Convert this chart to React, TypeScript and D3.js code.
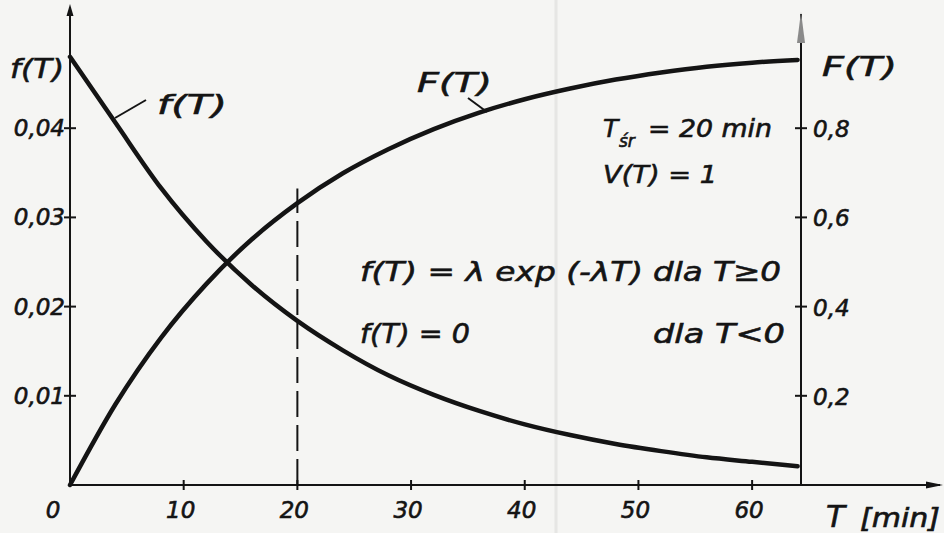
import React from "react";
import * as d3 from "d3";

// Exponential distribution: density f(T) (left axis) and distribution function F(T) (right axis)
const tValues = [0, 4, 8, 12, 16, 20, 24, 28, 32, 36, 40, 44, 48, 52, 56, 60, 64];
const densityValues = [0.048, 0.0406, 0.0333, 0.0273, 0.0224, 0.0184, 0.0151, 0.0123, 0.0101, 0.0083, 0.0068, 0.0056, 0.0046, 0.0038, 0.0031, 0.0026, 0.0021];
const cumulativeValues = [0, 0.181, 0.33, 0.451, 0.551, 0.632, 0.699, 0.753, 0.798, 0.835, 0.865, 0.889, 0.909, 0.925, 0.938, 0.947, 0.953];

const xTicks = [0, 10, 20, 30, 40, 50, 60];
const xTickLabels = ["0", "10", "20", "30", "40", "50", "60"];
const leftTicks = [0.01, 0.02, 0.03, 0.04];
const leftTickLabels = ["0,01", "0,02", "0,03", "0,04"];
const rightTicks = [0.2, 0.4, 0.6, 0.8];
const rightTickLabels = ["0,2", "0,4", "0,6", "0,8"];

const meanT = 20; // T_śr, marked with a dashed line
const meanLineTop = 0.665; // height of the dashed line, in F(T) units

const W = 944;
const H = 533;
const INK = "#141414";
const FONT = "'DejaVu Sans', sans-serif";

export default function App() {
  const x = d3.scaleLinear().domain([0, 64.3]).range([70, 801]);
  const yLeft = d3.scaleLinear().domain([0, 0.05]).range([485, 39]);
  const yRight = d3.scaleLinear().domain([0, 1]).range([485, 39]);

  const densityLine = d3
    .line<number>()
    .x((_, i) => x(tValues[i]))
    .y((d) => yLeft(d))
    .curve(d3.curveMonotoneX);
  const cumulativeLine = d3
    .line<number>()
    .x((_, i) => x(tValues[i]))
    .y((d) => yRight(d))
    .curve(d3.curveMonotoneX);

  const x0 = x(0);
  const xR = x(64.3);
  const yBase = yLeft(0);

  // hand-lettered look: oblique sans with a slightly heavier stroke
  const txt = {
    fontFamily: FONT,
    fontStyle: "italic" as const,
    fill: INK,
    stroke: INK,
    strokeWidth: 0.6,
  };

  return (
    <svg
      width={W}
      height={H}
      viewBox={`0 0 ${W} ${H}`}
      style={{ position: "absolute", left: 0, top: 0, display: "block" }}
    >
      <rect width={W} height={H} fill="#f5f5f3" />
      {/* paper fold */}
      <line x1={556} y1={0} x2={556} y2={H} stroke="#e6e6e4" strokeWidth={3} />

      {/* axes */}
      <g stroke={INK} strokeWidth={2} fill="none">
        <line x1={x0} y1={yBase} x2={x0} y2={10} />
        <line x1={xR} y1={yBase} x2={xR} y2={14} />
        <line x1={x0 - 2} y1={yBase} x2={940} y2={yBase} />
      </g>
      <polygon points={`${x0},4 ${x0 - 3.5},16 ${x0 + 3.5},16`} fill={INK} />
      <polygon points={`${xR},12 ${xR - 4},43 ${xR + 4},43`} fill="#8a8a8a" />
      <polygon points={`943,${yBase} 926,${yBase - 3.5} 926,${yBase + 3.5}`} fill={INK} />

      {/* x ticks */}
      <g stroke={INK} strokeWidth={2}>
        {xTicks.filter((t) => t > 0).map((t) => (
          <line key={t} x1={x(t)} x2={x(t)} y1={yBase - 5} y2={yBase + 5} />
        ))}
      </g>
      {xTicks.map((t, i) => (
        <text key={t} x={x(t) - (t === 0 ? 17 : 3)} y={518} textAnchor="middle" fontSize={23} {...txt}>
          {xTickLabels[i]}
        </text>
      ))}

      {/* left ticks */}
      <g stroke={INK} strokeWidth={2}>
        {leftTicks.map((v) => (
          <line key={v} x1={x0 - 6} x2={x0 + 6} y1={yLeft(v)} y2={yLeft(v)} />
        ))}
      </g>
      {leftTicks.map((v, i) => (
        <text key={v} x={x0 - 5} y={yLeft(v) + 8} textAnchor="end" fontSize={23} {...txt}>
          {leftTickLabels[i]}
        </text>
      ))}

      {/* right ticks */}
      <g stroke={INK} strokeWidth={2}>
        {rightTicks.map((v) => (
          <line key={v} x1={xR - 6} x2={xR + 6} y1={yRight(v)} y2={yRight(v)} />
        ))}
      </g>
      {rightTicks.map((v, i) => (
        <text key={v} x={xR + 12} y={yRight(v) + 9} textAnchor="start" fontSize={23} {...txt}>
          {rightTickLabels[i]}
        </text>
      ))}

      {/* dashed line at T_śr */}
      <line
        x1={x(meanT)}
        x2={x(meanT)}
        y1={yBase}
        y2={yRight(meanLineTop)}
        stroke={INK}
        strokeWidth={2}
        strokeDasharray="26 8"
      />

      {/* curves */}
      <path d={densityLine(densityValues) ?? ""} fill="none" stroke={INK} strokeWidth={4.5} strokeLinecap="round" />
      <path d={cumulativeLine(cumulativeValues) ?? ""} fill="none" stroke={INK} strokeWidth={4.5} strokeLinecap="round" />

      {/* curve labels with leaders */}
      <g stroke={INK} strokeWidth={2}>
        <line x1={115} y1={118} x2={146} y2={100} />
        <line x1={468} y1={98} x2={487} y2={112} />
      </g>
      <text x={10} y={78} fontSize={27} textLength={54} lengthAdjust="spacingAndGlyphs" {...txt}>f(T)</text>
      <text x={157} y={114} fontSize={27} textLength={70} lengthAdjust="spacingAndGlyphs" {...txt}>f(T)</text>
      <text x={417} y={92} fontSize={27} textLength={75} lengthAdjust="spacingAndGlyphs" {...txt}>F(T)</text>
      <text x={822} y={76} fontSize={27} textLength={75} lengthAdjust="spacingAndGlyphs" {...txt}>F(T)</text>

      {/* parameters */}
      <text x={603} y={137} fontSize={25} {...txt}>
        T
      </text>
      <text x={619} y={147} fontSize={17} {...txt}>
        śr
      </text>
      <text x={648} y={137} fontSize={24} textLength={124} lengthAdjust="spacingAndGlyphs" {...txt}>
        = 20 min
      </text>
      <text x={603} y={183} fontSize={25} textLength={114} lengthAdjust="spacingAndGlyphs" {...txt}>
        V(T) = 1
      </text>

      {/* formula */}
      <text x={360} y={281} fontSize={27} textLength={283} lengthAdjust="spacingAndGlyphs" {...txt}>
        f(T) = λ exp (-λT)
      </text>
      <text x={653} y={281} fontSize={27} textLength={128} lengthAdjust="spacingAndGlyphs" {...txt}>
        dla T≥0
      </text>
      <text x={360} y={343} fontSize={27} textLength={110} lengthAdjust="spacingAndGlyphs" {...txt}>
        f(T) = 0
      </text>
      <text x={653} y={343} fontSize={27} textLength={132} lengthAdjust="spacingAndGlyphs" {...txt}>
        dla T&lt;0
      </text>

      {/* x axis title */}
      <text x={826} y={527} fontSize={31} {...txt}>
        T
      </text>
      <text x={860} y={527} fontSize={26} textLength={80} lengthAdjust="spacingAndGlyphs" {...txt}>
        [min]
      </text>
    </svg>
  );
}
